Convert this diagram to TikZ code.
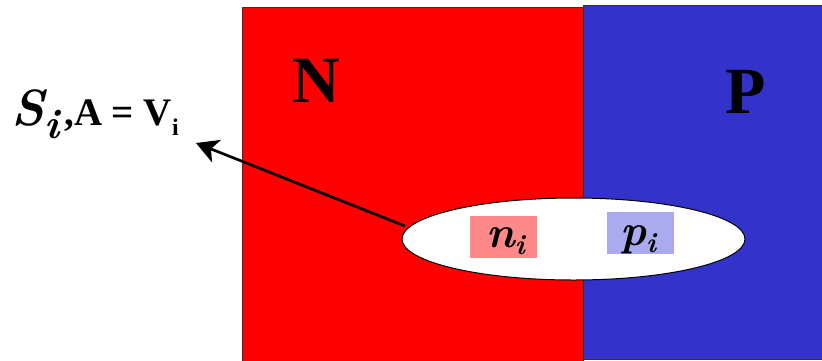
\documentclass[tikz,border=0pt]{standalone}
\usepackage{fontspec}
\setmainfont{Liberation Serif}
\newfontfamily\bifont{lmroman10-bolditalic.otf}
\usetikzlibrary{arrows.meta,shapes.geometric}
\definecolor{nred}{HTML}{FF0000}
\definecolor{pblue}{HTML}{3333CC}
\definecolor{nbox}{HTML}{FF8888}
\definecolor{pbox}{HTML}{AAAAEE}
\definecolor{edge}{HTML}{333333}
\tikzset{
  region/.style={draw=edge, line width=1pt},
  tag/.style={inner sep=0pt, minimum width=67pt, minimum height=42pt},
  big/.style={font=\fontsize{66}{66}\selectfont\bfseries, inner sep=0pt, anchor=base west},
  pointer/.style={-{Stealth[length=22pt,width=24pt,inset=6pt]}, line width=2.7pt}
}
\begin{document}
\begin{tikzpicture}[x=1pt,y=-1pt]
\useasboundingbox (0,0) rectangle (822,360);
\fill[white] (0,0) rectangle (822,360);
\path[region, fill=pblue] (583,5) rectangle (826,359);
\path[region, fill=nred] (242,7) rectangle (583,364);
\node[big] (N) at (292,102) {N};
\node[big] (P) at (725,113) {P};
\node[draw=black, line width=1pt, fill=white, ellipse, minimum width=343pt, minimum height=82pt, inner sep=0pt] (ell) at (573.5,239) {};
\node[tag, fill=nbox] (nb) at (503.5,237) {};
\node[tag, fill=pbox] (pb) at (640.5,233) {};
\node[anchor=base west, inner sep=0pt] (nt) at (486,247) {\bifont\fontsize{44}{44}\selectfont n\raisebox{-7pt}{\fontsize{28}{28}\selectfont i}};
\node[anchor=base west, inner sep=0pt] (pt) at (620,245) {\bifont\fontsize{44}{44}\selectfont p\raisebox{-7pt}{\fontsize{28}{28}\selectfont i}};
\node[anchor=base west, inner sep=0pt] (lbl) at (11,125) {\bifont\fontsize{51}{51}\selectfont S\raisebox{-13pt}{\fontsize{42}{42}\selectfont i}\rmfamily\fontsize{39}{39}\selectfont\bfseries\hspace{5pt},A = V\raisebox{-10pt}{\fontsize{24}{24}\selectfont i}};
\coordinate (tail) at (405,226);
\coordinate (tip) at (196,143);
\draw[pointer] (tail) -- (tip);
\end{tikzpicture}
\end{document}
